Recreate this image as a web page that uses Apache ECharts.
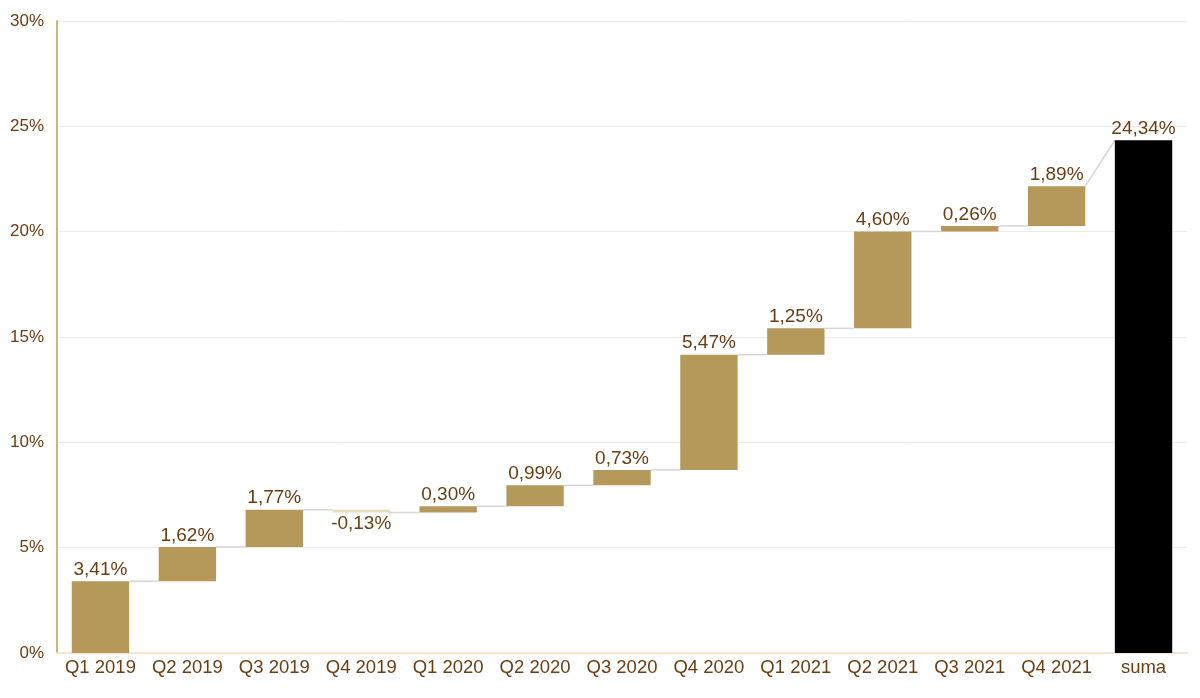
<!DOCTYPE html>
<html>
<head>
<meta charset="utf-8">
<script src="https://cdn.jsdelivr.net/npm/echarts@6/dist/echarts.min.js"></script>
<style>html,body{margin:0;padding:0;background:#fff}#c{width:1200px;height:698px}</style>
</head>
<body>
<div id="c"></div>
<script>
const categories = ['Q1 2019','Q2 2019','Q3 2019','Q4 2019','Q1 2020','Q2 2020','Q3 2020','Q4 2020','Q1 2021','Q2 2021','Q3 2021','Q4 2021','suma'];
const deltas = [3.41, 1.62, 1.77, -0.13, 0.30, 0.99, 0.73, 5.47, 1.25, 4.60, 0.26, 1.89];
const total = 24.34;
const yTicks = {min: 0, max: 30, interval: 5};

const fmt = v => v.toFixed(2).replace('.', ',') + '%';
const FONT = '"Liberation Sans", Arial, sans-serif';
const TXT = '#6b3d12';

let cur = 0;
const bases = [], heights = [], ends = [];
deltas.forEach(d => {
  const e = +(cur + d).toFixed(2);
  bases.push(Math.min(cur, e));
  heights.push(Math.abs(d));
  ends.push(e);
  cur = e;
});
bases.push(0);
const visible = heights.map((h, i) => ({
  value: h,
  itemStyle: {color: deltas[i] < 0 ? '#e8dcbc' : '#b5995a'},
  label: {position: deltas[i] < 0 ? 'bottom' : 'top'}
}));
visible.push({value: total, itemStyle: {color: '#000000'}, label: {position: 'top'}});
const labels = deltas.map(fmt).concat([fmt(total)]);

const connectors = [];
for (let i = 0; i < deltas.length; i++) {
  connectors.push([i, ends[i], i === deltas.length - 1 ? total : ends[i]]);
}

const chart = echarts.init(document.getElementById('c'));
chart.setOption({
  animation: false,
  grid: {left: 57, right: 13, top: 21, bottom: 45},
  xAxis: {
    type: 'category', data: categories, boundaryGap: true,
    axisLine: {lineStyle: {color: '#fbe3cc', width: 2}},
    axisTick: {show: false},
    axisLabel: {color: TXT, fontSize: 18.5, fontFamily: FONT, margin: 5, interval: 0}
  },
  yAxis: {
    type: 'value', min: yTicks.min, max: yTicks.max, interval: yTicks.interval,
    axisLine: {show: true, lineStyle: {color: '#c9b784', width: 2}},
    axisTick: {show: false},
    splitLine: {lineStyle: {color: '#ebebeb', width: 1}},
    axisLabel: {color: TXT, fontSize: 17, fontFamily: FONT, formatter: '{value}%', margin: 13}
  },
  series: [
    {
      type: 'bar', stack: 'w', data: bases, barWidth: '66%',
      itemStyle: {color: 'rgba(0,0,0,0)'}, silent: true
    },
    {
      type: 'bar', stack: 'w', data: visible, barWidth: '66%',
      label: {
        show: true, color: TXT, fontSize: 19, fontFamily: FONT, distance: 2,
        formatter: p => labels[p.dataIndex]
      }
    },
    {
      type: 'custom', z: 1,
      data: connectors,
      encode: {x: 0, y: 1},
      renderItem: (params, api) => {
        const i = api.value(0);
        const band = api.size([1, 0])[0];
        const half = band * 0.33;
        const p1 = api.coord([i, api.value(1)]);
        const p2 = api.coord([i + 1, api.value(2)]);
        return {
          type: 'line',
          shape: {x1: p1[0] + half, y1: p1[1], x2: p2[0] - half, y2: p2[1]},
          style: {stroke: '#d6d6d6', lineWidth: 1.5}
        };
      }
    }
  ]
});
</script>
</body>
</html>
